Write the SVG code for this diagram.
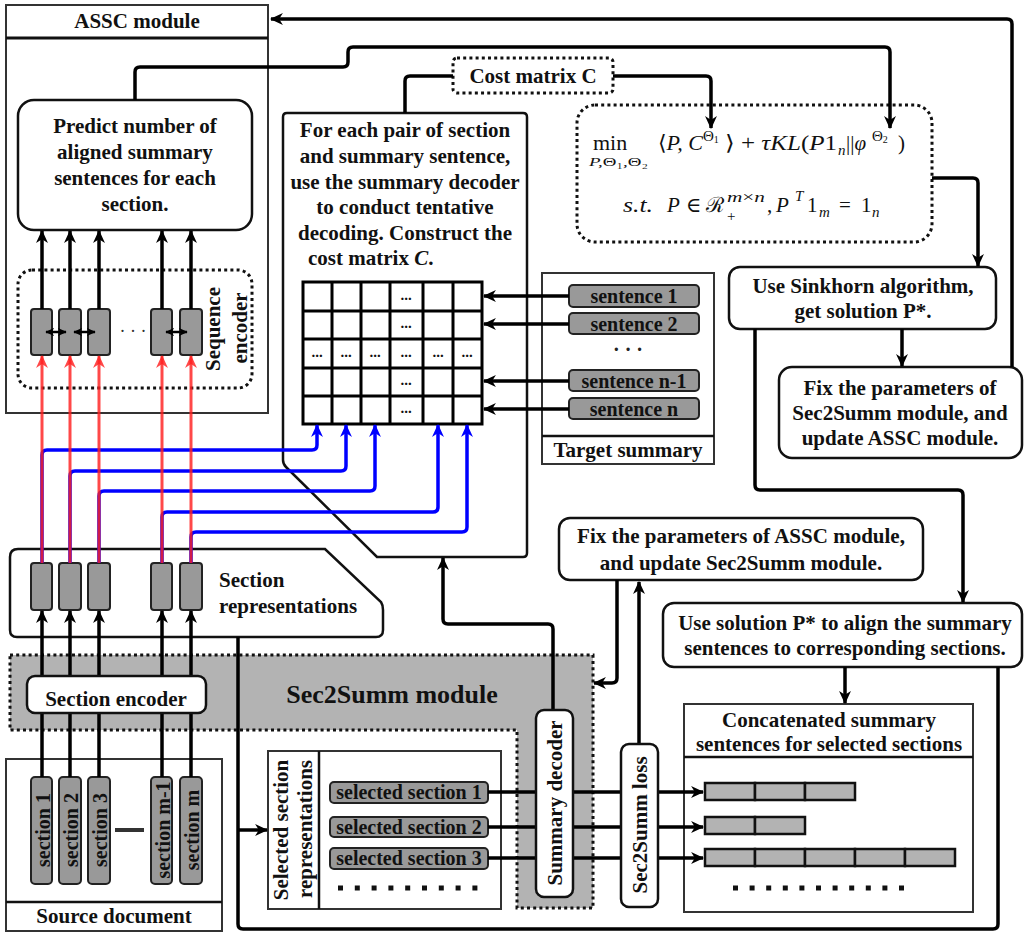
<svg xmlns="http://www.w3.org/2000/svg" width="1024" height="932" viewBox="0 0 1024 932">
<defs>
<style>
.t{font-family:"Liberation Serif","Times New Roman",serif;font-weight:bold;font-size:21px;text-anchor:middle;fill:#111}
.ts{font-family:"Liberation Serif","Times New Roman",serif;font-weight:bold;font-size:20px;text-anchor:middle;fill:#111}
.m{font-family:"Liberation Serif","DejaVu Serif",serif;font-size:21px;fill:#111}
.mi{font-family:"Liberation Serif","DejaVu Serif",serif;font-size:21px;font-style:italic;fill:#111}
.sm{font-size:15px}
.box{fill:#fff;stroke:#111;stroke-width:2.5}
.frame{fill:#fff;stroke:#333;stroke-width:2}
.gray{fill:#999;stroke:#222;stroke-width:2}
.bar{fill:#b3b3b3;stroke:#111;stroke-width:2.5}
.dot{fill:#fff;stroke:#111;stroke-width:3;stroke-dasharray:3 3.2}
.ln{fill:none;stroke:#000;stroke-width:3.5;stroke-linejoin:round}
.thin{fill:none;stroke:#000;stroke-width:2.5}
.blue{fill:none;stroke:#0000ff;stroke-width:3.5;stroke-linejoin:round}
.red{fill:none;stroke:#ff2020;stroke-width:3;stroke-opacity:0.82}
.grid{fill:none;stroke:#000;stroke-width:3}
.cell{font-family:"Liberation Serif",serif;font-weight:bold;font-size:15px;text-anchor:middle;fill:#111}
</style>
<marker id="ab" viewBox="0 0 12 12" refX="11" refY="6" markerWidth="13" markerHeight="13" markerUnits="userSpaceOnUse" orient="auto">
<path d="M0,0.5 L12,6 L0,11.5 L3.5,6 z" fill="#000"/>
</marker>
<marker id="abs" viewBox="0 0 12 12" refX="11" refY="6" markerWidth="9" markerHeight="9" markerUnits="userSpaceOnUse" orient="auto-start-reverse">
<path d="M0,0.5 L12,6 L0,11.5 L3.5,6 z" fill="#000"/>
</marker>
<marker id="ablue" viewBox="0 0 12 12" refX="11" refY="6" markerWidth="13" markerHeight="13" markerUnits="userSpaceOnUse" orient="auto">
<path d="M0,0.5 L12,6 L0,11.5 L3.5,6 z" fill="#0000ff"/>
</marker>
<marker id="ared" viewBox="0 0 12 12" refX="11" refY="6" markerWidth="13" markerHeight="13" markerUnits="userSpaceOnUse" orient="auto">
<path d="M0,0.5 L12,6 L0,11.5 L3.5,6 z" fill="#ff2020" fill-opacity="0.82"/>
</marker>
</defs>
<rect width="1024" height="932" fill="#fff"/>

<g id="sec2summ-module">
<path d="M10,655 H593 V908 H517 V730 H10 Z" fill="#b3b3b3" stroke="#111" stroke-width="3" stroke-dasharray="3 3.2"/>
<text class="t" x="392" y="703" style="font-size:26px">Sec2Summ module</text>
</g>

<g id="assc-module">
<rect class="frame" x="6" y="5" width="262" height="408"/>
<line x1="6" y1="38" x2="268" y2="38" stroke="#111" stroke-width="3"/>
<text class="t" x="137" y="28">ASSC module</text>
</g>

<g id="predict-node">
<rect class="box" x="18" y="100" width="234" height="130" rx="16"/>
<text class="t" x="135" y="133">Predict number of</text>
<text class="t" x="135" y="159">aligned summary</text>
<text class="t" x="135" y="185">sentences for each</text>
<text class="t" x="135" y="211">section.</text>
</g>

<g id="sequence-encoder">
<rect class="dot" x="18" y="270" width="234" height="118" rx="14"/>
<text class="t" transform="translate(220,329) rotate(-90)">Sequence</text>
<text class="t" transform="translate(247,328) rotate(-90)">encoder</text>
<rect class="gray" x="31" y="309" width="21" height="46" rx="3"/>
<rect class="gray" x="59" y="309" width="22" height="46" rx="3"/>
<rect class="gray" x="88" y="309" width="22" height="46" rx="3"/>
<rect class="gray" x="151" y="309" width="21" height="46" rx="3"/>
<rect class="gray" x="180" y="309" width="22" height="46" rx="3"/>
<text x="133" y="337" style="font-family:'Liberation Serif',serif;font-size:18px;text-anchor:middle;fill:#333">· · ·</text>
</g>

<g id="cost-matrix-label">
<rect class="dot" x="453" y="58" width="160" height="35" rx="4"/>
<text class="t" x="533" y="83">Cost matrix C</text>
</g>

<g id="tentative-decoding-node">
<path class="box" d="M283,117 Q283,113 287,113 H523 Q527,113 527,117 V553 Q527,557 523,557 H377 L286,467 Q283,464 283,460 Z"/>
<text class="t" x="405" y="137">For each pair of section</text>
<text class="t" x="405" y="163">and summary sentence,</text>
<text class="t" x="405" y="189">use the summary decoder</text>
<text class="t" x="405" y="214">to conduct tentative</text>
<text class="t" x="405" y="240">decoding. Construct the</text>
<text class="t" x="308" y="265" style="text-anchor:start">cost matrix <tspan font-style="italic">C</tspan>.</text>
</g>

<g id="cost-grid">
<rect x="303" y="282" width="179" height="142" fill="#fff"/>
<path class="grid" d="M303,282 H482 V424 H303 Z M332,282 V424 M361,282 V424 M390,282 V424 M423,282 V424 M453,282 V424 M303,311 H482 M303,339 H482 M303,368 H482 M303,396 H482"/>
<text class="cell" x="406" y="300">...</text>
<text class="cell" x="406" y="328">...</text>
<text class="cell" x="317" y="357">...</text>
<text class="cell" x="346" y="357">...</text>
<text class="cell" x="375" y="357">...</text>
<text class="cell" x="406" y="357">...</text>
<text class="cell" x="438" y="357">...</text>
<text class="cell" x="467" y="357">...</text>
<text class="cell" x="406" y="385">...</text>
<text class="cell" x="406" y="413">...</text>
</g>

<g id="formula-node">
<rect class="dot" x="577" y="105" width="355" height="137" rx="18"/>
<text class="m" x="593" y="150" style="font-size:22px">min</text>
<text class="mi" x="589" y="166" style="font-size:13px" textLength="59" lengthAdjust="spacingAndGlyphs">P,<tspan font-style="normal">Θ₁</tspan>,<tspan font-style="normal">Θ₂</tspan></text>
<text class="mi" x="658" y="150" textLength="45" lengthAdjust="spacingAndGlyphs"><tspan font-style="normal">⟨</tspan>P, C</text>
<text class="m" x="703" y="141" style="font-size:15px">Θ<tspan style="font-size:10px" dy="2">1</tspan></text>
<text class="m" x="725" y="150" textLength="112" lengthAdjust="spacingAndGlyphs">⟩ + <tspan font-style="italic">τKL</tspan>(<tspan font-style="italic">P</tspan>1</text>
<text class="mi sm" x="838" y="155">n</text>
<text class="m" x="846" y="150">||<tspan font-style="italic">φ</tspan></text>
<text class="m" x="872" y="141" style="font-size:15px">Θ<tspan style="font-size:10px" dy="2">2</tspan></text>
<text class="m" x="898" y="150">)</text>
<text class="mi" x="623" y="212" textLength="30" lengthAdjust="spacingAndGlyphs">s.t.</text>
<text class="mi" x="667" y="212">P</text>
<text class="m" x="686" y="212">∈</text>
<text class="m" x="706" y="212">ℛ</text>
<text class="mi sm" x="727" y="202" textLength="38" lengthAdjust="spacingAndGlyphs">m<tspan font-style="normal">×</tspan>n</text>
<text class="m sm" x="727" y="221">+</text>
<text class="m" x="767" y="212">,</text>
<text class="mi" x="776" y="212">P</text>
<text class="mi sm" x="795" y="201">T</text>
<text class="m" x="807" y="212">1</text>
<text class="mi sm" x="819" y="217">m</text>
<text class="m" x="839" y="212">=</text>
<text class="m" x="861" y="212">1</text>
<text class="mi sm" x="872" y="217">n</text>
</g>

<g id="target-summary">
<rect class="frame" x="542" y="273" width="172" height="191"/>
<line x1="542" y1="436" x2="714" y2="436" stroke="#111" stroke-width="2.5"/>
<text class="t" x="628" y="457">Target summary</text>
<rect class="gray" x="569" y="285" width="130" height="22" rx="4"/>
<text class="ts" x="634" y="303">sentence 1</text>
<rect class="gray" x="569" y="313" width="130" height="21" rx="4"/>
<text class="ts" x="634" y="331">sentence 2</text>
<text x="628" y="356" style="font-family:'Liberation Serif',serif;font-size:20px;font-weight:bold;text-anchor:middle;fill:#222">· · ·</text>
<rect class="gray" x="569" y="370" width="130" height="21" rx="4"/>
<text class="ts" x="634" y="388">sentence n-1</text>
<rect class="gray" x="569" y="398" width="130" height="21" rx="4"/>
<text class="ts" x="634" y="416">sentence n</text>
</g>

<g id="sinkhorn-node">
<rect class="box" x="729" y="267" width="267" height="62" rx="11"/>
<text class="t" x="863" y="293">Use Sinkhorn algorithm,</text>
<text class="t" x="863" y="318">get solution P*.</text>
</g>

<g id="update-assc-node">
<rect class="box" x="779" y="367" width="243" height="91" rx="13"/>
<text class="t" x="900" y="395">Fix the parameters of</text>
<text class="t" x="900" y="420">Sec2Summ module, and</text>
<text class="t" x="900" y="445">update ASSC module.</text>
</g>

<g id="section-representations">
<path class="box" d="M10,557 Q10,549 18,549 H325 L381,602 Q383,605 383,610 V630 Q383,637 376,637 H17 Q10,637 10,630 Z"/>
<rect class="gray" x="31" y="563" width="21" height="47" rx="3"/>
<rect class="gray" x="59" y="563" width="22" height="47" rx="3"/>
<rect class="gray" x="88" y="563" width="22" height="47" rx="3"/>
<rect class="gray" x="151" y="563" width="21" height="47" rx="3"/>
<rect class="gray" x="180" y="563" width="22" height="47" rx="3"/>
<text class="t" x="219" y="587" style="text-anchor:start">Section</text>
<text class="t" x="219" y="613" style="text-anchor:start">representations</text>
</g>

<g id="update-sec2summ-node">
<rect class="box" x="559" y="518" width="364" height="62" rx="11"/>
<text class="t" x="741" y="543">Fix the parameters of ASSC module,</text>
<text class="t" x="741" y="570">and update Sec2Summ module.</text>
</g>

<g id="align-node">
<rect class="box" x="663" y="603" width="359" height="64" rx="11"/>
<text class="t" x="845" y="630">Use solution P* to align the summary</text>
<text class="t" x="845" y="655">sentences to corresponding sections.</text>
</g>

<g id="source-document">
<rect class="frame" x="6" y="759" width="216" height="172"/>
<line x1="6" y1="902" x2="222" y2="902" stroke="#111" stroke-width="2.5"/>
<text class="t" x="114" y="923">Source document</text>
<rect class="gray" x="31" y="777" width="21" height="107" rx="4"/>
<text class="ts" transform="translate(50,830) rotate(-90)">section 1</text>
<rect class="gray" x="59" y="777" width="22" height="107" rx="4"/>
<text class="ts" transform="translate(78,830) rotate(-90)">section 2</text>
<rect class="gray" x="88" y="777" width="22" height="107" rx="4"/>
<text class="ts" transform="translate(107,830) rotate(-90)">section 3</text>
<line x1="115" y1="830" x2="144" y2="830" stroke="#333" stroke-width="4"/>
<rect class="gray" x="151" y="777" width="21" height="107" rx="4"/>
<text class="ts" transform="translate(170,830) rotate(-90)">section m-1</text>
<rect class="gray" x="180" y="777" width="22" height="107" rx="4"/>
<text class="ts" transform="translate(199,830) rotate(-90)">section m</text>
</g>

<g id="selected-sections">
<rect class="frame" x="268" y="751" width="233" height="158"/>
<line x1="319" y1="751" x2="319" y2="909" stroke="#111" stroke-width="2.5"/>
<text class="t" transform="translate(288,830) rotate(-90)">Selected section</text>
<text class="t" transform="translate(312,829) rotate(-90)">representations</text>
<rect class="gray" x="330" y="782" width="158" height="21" rx="4"/>
<text class="ts" x="409" y="799">selected section 1</text>
<rect class="gray" x="330" y="817" width="158" height="20" rx="4"/>
<text class="ts" x="409" y="834">selected section 2</text>
<rect class="gray" x="330" y="848" width="158" height="21" rx="4"/>
<text class="ts" x="409" y="865">selected section 3</text>
<line x1="338" y1="888" x2="480" y2="888" stroke="#111" stroke-width="5" stroke-dasharray="5 11.8"/>
</g>

<g id="concatenated-summary">
<rect class="frame" x="684" y="704" width="289" height="208"/>
<line x1="684" y1="757" x2="973" y2="757" stroke="#111" stroke-width="2.5"/>
<text class="t" x="829" y="727">Concatenated summary</text>
<text class="t" x="829" y="751">sentences for selected sections</text>
<rect class="bar" x="705" y="783" width="50" height="17"/>
<rect class="bar" x="755" y="783" width="50" height="17"/>
<rect class="bar" x="805" y="783" width="50" height="17"/>
<rect class="bar" x="705" y="817" width="50" height="17"/>
<rect class="bar" x="755" y="817" width="50" height="17"/>
<rect class="bar" x="705" y="849" width="50" height="17"/>
<rect class="bar" x="755" y="849" width="50" height="17"/>
<rect class="bar" x="805" y="849" width="50" height="17"/>
<rect class="bar" x="855" y="849" width="50" height="17"/>
<rect class="bar" x="905" y="849" width="50" height="17"/>
<line x1="733" y1="888" x2="906" y2="888" stroke="#111" stroke-width="5" stroke-dasharray="5 11.6"/>
</g>

<g id="connectors">
<path class="ln" d="M1012,367 V24 Q1012,19 1007,19 H271" marker-end="url(#ab)"/>
<path class="ln" d="M135,100 V72 Q135,67 140,67 H343 Q348,67 348,62 V52 Q348,47 353,47 H885 Q890,47 890,52 V128" marker-end="url(#ab)"/>
<path class="ln" d="M453,76 H410 Q405,76 405,81 V113"/>
<path class="ln" d="M613,76 H706 Q711,76 711,81 V128" marker-end="url(#ab)"/>
<path class="ln" d="M932,178 H973 Q978,178 978,183 V266" marker-end="url(#ab)"/>
<path class="ln" d="M902,329 V366" marker-end="url(#ab)"/>
<path class="ln" d="M755,329 V485 Q755,490 760,490 H958 Q963,490 963,495 V602" marker-end="url(#ab)"/>
<path class="ln" d="M845,667 V703" marker-end="url(#ab)"/>
<path class="ln" d="M998,667 V924 Q998,929 993,929 H243 Q238,929 238,924 V637"/>
<path class="ln" d="M238,830 H267" marker-end="url(#ab)"/>
<path class="ln" d="M617,580 V678 Q617,683 612,683 H594" marker-end="url(#ab)"/>
<path class="ln" d="M639,744 V582" marker-end="url(#ab)"/>
<path class="ln" d="M553,710 V629 Q553,624 548,624 H448 Q443,624 443,619 V558" marker-end="url(#ab)"/>
<path class="ln" d="M488,792 H703" marker-end="url(#ab)"/>
<path class="ln" d="M488,827 H703" marker-end="url(#ab)"/>
<path class="ln" d="M488,858 H703" marker-end="url(#ab)"/>
<path class="ln" d="M569,296 H484" marker-end="url(#ab)"/>
<path class="ln" d="M569,324 H484" marker-end="url(#ab)"/>
<path class="ln" d="M569,381 H484" marker-end="url(#ab)"/>
<path class="ln" d="M569,409 H484" marker-end="url(#ab)"/>
<path class="ln" d="M42,309 V231" marker-end="url(#ab)"/>
<path class="ln" d="M70,309 V231" marker-end="url(#ab)"/>
<path class="ln" d="M99,309 V231" marker-end="url(#ab)"/>
<path class="ln" d="M162,309 V231" marker-end="url(#ab)"/>
<path class="ln" d="M191,309 V231" marker-end="url(#ab)"/>
<path class="thin" d="M46,332 H66" marker-start="url(#abs)" marker-end="url(#abs)"/>
<path class="thin" d="M74,332 H95" marker-start="url(#abs)" marker-end="url(#abs)"/>
<path class="thin" d="M166,332 H187" marker-start="url(#abs)" marker-end="url(#abs)"/>
<path class="ln" d="M42,777 V611" marker-end="url(#ab)"/>
<path class="ln" d="M70,777 V611" marker-end="url(#ab)"/>
<path class="ln" d="M99,777 V611" marker-end="url(#ab)"/>
<path class="ln" d="M162,777 V611" marker-end="url(#ab)"/>
<path class="ln" d="M191,777 V611" marker-end="url(#ab)"/>
<path class="blue" d="M42,563 V455 Q42,450 47,450 H312 Q317,450 317,445 V425" marker-end="url(#ablue)"/>
<path class="blue" d="M70,563 V476 Q70,471 75,471 H341 Q346,471 346,466 V425" marker-end="url(#ablue)"/>
<path class="blue" d="M99,563 V496 Q99,491 104,491 H370 Q375,491 375,486 V425" marker-end="url(#ablue)"/>
<path class="blue" d="M162,563 V517 Q162,512 167,512 H433 Q438,512 438,507 V425" marker-end="url(#ablue)"/>
<path class="blue" d="M191,563 V537 Q191,532 196,532 H462 Q467,532 467,527 V425" marker-end="url(#ablue)"/>
<path class="red" d="M42,563 V356" marker-end="url(#ared)"/>
<path class="red" d="M70,563 V356" marker-end="url(#ared)"/>
<path class="red" d="M99,563 V356" marker-end="url(#ared)"/>
<path class="red" d="M162,563 V356" marker-end="url(#ared)"/>
<path class="red" d="M191,563 V356" marker-end="url(#ared)"/>
</g>

<g id="section-encoder">
<rect class="box" x="27" y="676" width="179" height="37" rx="8"/>
<text class="t" x="116" y="706">Section encoder</text>
</g>

<g id="summary-decoder">
<rect class="box" x="536" y="710" width="37" height="187" rx="8"/>
<text class="t" transform="translate(562,803) rotate(-90)">Summary decoder</text>
</g>

<g id="sec2summ-loss">
<rect class="box" x="621" y="744" width="37" height="163" rx="8"/>
<text class="t" transform="translate(647,825) rotate(-90)">Sec2Summ loss</text>
</g>
</svg>
